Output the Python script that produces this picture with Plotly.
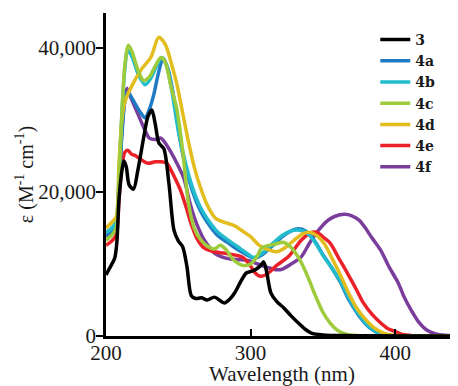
import plotly.graph_objects as go

# ---- data ----
wl_3 = [200, 203, 206, 207.5, 209, 211, 212.4, 214, 216, 219, 222, 226, 229, 231.7, 234, 236.6, 240, 243.5,
        247, 250, 253, 256, 259, 262, 266, 270, 275, 279, 282, 286, 289, 293, 297, 301, 304, 307, 309, 311,
        314, 318, 323, 328, 333, 338, 342, 350, 370, 443]
eps_3 = [8500, 9600, 10800, 13000, 19000, 23000, 24300, 23500, 21000, 20400, 23000, 27500, 30500, 31400, 29500,
         26800, 26000, 21200, 14700, 13200, 12400, 9600, 5600, 5200, 5300, 5000, 5400, 4900, 4600, 5200, 6000,
         7500, 8750, 9000, 9300, 9800, 10300, 9000, 6000, 4800, 3900, 2800, 1800, 900, 400, 150, 50, 0]

wl_4a = [200, 204, 207, 209, 211, 213, 215, 220, 224, 227, 230, 233, 236, 239.5, 243, 247, 251, 255, 260, 265,
         270, 277, 284, 291, 298, 302, 308, 315, 322, 328, 333, 338, 344, 350, 355, 362, 368, 375, 382, 390, 400, 443]
eps_4a = [13900, 14500, 15500, 21000, 28000, 32500, 33900, 32300, 31000, 30300, 31500, 33500, 36300, 38600, 37000,
          33000, 27500, 23500, 20000, 17500, 15800, 14000, 13000, 12000, 11200, 10800, 11300, 12500, 13800, 14600,
          14900, 14600, 13300, 11300, 9800, 7500, 5000, 2800, 1200, 250, 50, 0]

wl_4b = [200, 204, 207, 209, 211, 213, 215, 218, 222, 227, 231, 235, 238.5, 242, 246, 250, 255, 260, 265, 270,
         277, 284, 291, 298, 302, 308, 315, 322, 328, 334, 339, 345, 350, 356, 362, 368, 375, 382, 390, 400, 443]
eps_4b = [14400, 15000, 16000, 22500, 31000, 37000, 39700, 38800, 36500, 34900, 35800, 37500, 38700, 37500, 33500,
          28500, 24000, 20500, 18000, 16300, 14500, 13400, 12400, 11400, 10900, 11500, 12800, 14000, 14600, 14700,
          14300, 12900, 11200, 9500, 7700, 5300, 3000, 1300, 300, 50, 0]

wl_4c = [200, 204, 207, 209, 211, 213, 215.5, 218, 222, 226, 230, 234, 238, 241, 245, 249, 253, 257, 261, 265,
         270, 275, 279, 283, 288, 295, 300, 304, 308, 316, 323, 328, 334, 340, 345, 350, 355, 360, 366, 375, 443]
eps_4c = [13300, 14000, 15000, 22000, 31000, 37500, 40400, 39500, 37000, 35500, 36000, 37500, 38700, 38000, 34600,
          31500, 25800, 18500, 15000, 13500, 12500, 12100, 12600, 12000, 10600, 9800, 10000, 10900, 12300, 12700,
          13000, 12300, 10600, 8000, 5500, 3300, 1800, 800, 250, 50, 0]

wl_4d = [200, 204, 207, 209, 211, 213, 217, 224, 231, 236.5, 241, 245, 249, 253, 257, 261, 265, 270, 276, 282,
         289, 295, 300, 306, 312, 318, 324, 330, 336, 341, 346, 351, 357, 362, 367, 373, 379, 385, 392, 400, 443]
eps_4d = [15000, 15800, 16500, 24000, 30000, 32500, 34400, 36900, 38700, 41500, 40500, 38000, 35000, 31000, 27000,
          23500, 20800, 18200, 16300, 15800, 15300, 14500, 13800, 12600, 12000, 11700, 12300, 13300, 14200, 14400,
          13900, 12800, 10500, 8500, 6300, 4000, 2400, 1200, 400, 100, 0]

wl_4e = [200, 204, 207, 209, 211, 213, 215, 218, 220, 225, 229, 234, 238, 242, 245, 248, 252, 256, 259, 263, 268,
         275, 285, 294, 299, 303, 307, 312, 318, 326, 335, 341, 346, 351, 355, 361, 367, 373, 378, 384, 390, 395,
         399, 405, 412, 443]
eps_4e = [12600, 13200, 14000, 19000, 23500, 25500, 25800, 25200, 25100, 24400, 24000, 24200, 24200, 24000, 23000,
          21800, 20000, 17500, 15500, 13500, 12200, 11700, 11400, 11000, 10000, 8800, 8300, 8700, 9800, 11000, 13300,
          14300, 14400, 13600, 12900, 10800, 8700, 6500, 4600, 3000, 1800, 1000, 700, 200, 50, 0]

wl_4f = [200, 204, 207, 209, 211, 213, 214.5, 217, 220, 223, 226, 230, 234, 238, 242, 245, 249, 254, 258, 261, 265,
         268, 272, 275, 280, 286, 292, 298, 305, 312, 318, 322, 328, 335, 341, 347, 353, 358, 365, 370, 375, 379,
         384, 390, 396, 402, 406, 411, 416, 422, 428, 435, 443]
eps_4f = [13900, 14500, 15300, 21000, 28500, 33000, 34400, 33200, 31800, 30400, 29000, 27500, 27300, 27500, 26500,
          25500, 24000, 21800, 18500, 16500, 14500, 13300, 12200, 11500, 11000, 10700, 10600, 10500, 10000, 9500,
          9200, 9300, 10000, 11000, 13000, 14700, 16000, 16600, 16900, 16700, 16100, 15100, 13600, 11900, 9500,
          7400, 5500, 3600, 2000, 800, 300, 100, 0]

series_names = ["3", "4a", "4b", "4c", "4d", "4e", "4f"]
series_colors = ["#000000", "#1f7cc4", "#22bccc", "#9dcb3c", "#e2bd1d", "#eb2129", "#7a3d9c"]
x_ticks = [200, 300, 400]
y_ticks = [0, 20000, 40000]
y_tick_text = ["0", "20,000", "40,000"]

data = {
    "3": (wl_3, eps_3), "4a": (wl_4a, eps_4a), "4b": (wl_4b, eps_4b), "4c": (wl_4c, eps_4c),
    "4d": (wl_4d, eps_4d), "4e": (wl_4e, eps_4e), "4f": (wl_4f, eps_4f),
}
draw_order = ["4f", "4e", "4a", "4b", "4d", "4c", "3"]

fig = go.Figure()
for name in draw_order:
    i = series_names.index(name)
    x, y = data[name]
    fig.add_trace(go.Scatter(
        x=x, y=y, mode="lines", name=name, legendrank=i + 1,
        line=dict(color=series_colors[i], width=3.5, shape="spline", smoothing=0.8),
    ))

font_family = "Liberation Serif, Times New Roman, serif"
# the page body adds an 8 px offset, so the figure is 8 px smaller and left/top margins are reduced by 8
fig.update_layout(
    width=450, height=378,
    margin=dict(l=98, r=0, t=5, b=50, autoexpand=False),
    paper_bgcolor="white", plot_bgcolor="white",
    font=dict(family=font_family, size=21, color="#1a1a1a"),
    showlegend=True,
    legend=dict(x=0.765, y=0.966, xanchor="left", yanchor="top",
                font=dict(family="DejaVu Serif, serif", size=14, color="#1a1a1a", weight="bold"),
                bgcolor="rgba(0,0,0,0)", traceorder="normal"),
    xaxis=dict(range=[200, 443.4], tickvals=x_ticks, ticks="inside", ticklen=7, tickwidth=2,
               tickcolor="black", showline=True, linecolor="black", linewidth=2.5,
               showgrid=False, zeroline=False, mirror=False, automargin=False, ticklabelstandoff=-4,
               title=dict(text="Wavelength (nm)", standoff=1, font=dict(size=21))),
    yaxis=dict(range=[0, 44870], tickvals=y_ticks, ticktext=y_tick_text, ticks="outside", ticklen=7,
               tickwidth=2, tickcolor="black", showline=True, linecolor="black", linewidth=2.5,
               showgrid=False, zeroline=False, automargin=False, ticklabelstandoff=-4,
               title=dict(text="ε (M<sup>-1</sup> cm<sup>-1</sup>)", standoff=0, font=dict(size=20))),
)

fig.write_html("out.html")
